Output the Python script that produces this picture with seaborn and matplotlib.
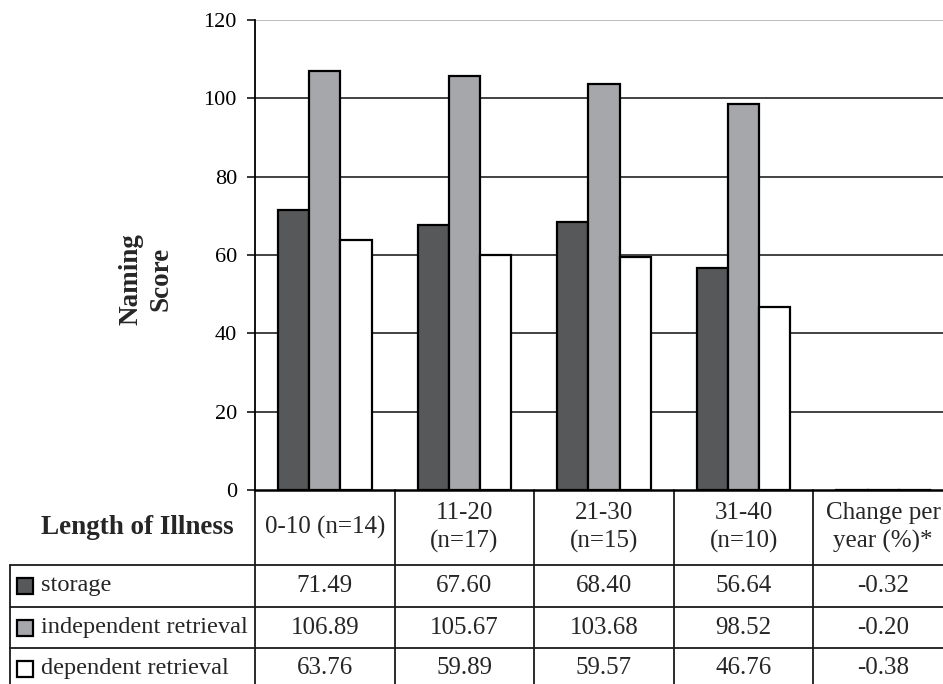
import numpy as np
import pandas as pd
import matplotlib
matplotlib.use("Agg")
import matplotlib.pyplot as plt
import seaborn as sns

# Données du graphique
categories = ["0-10 (n=14)", "11-20\n(n=17)", "21-30\n(n=15)", "31-40\n(n=10)", "Change per\nyear (%)*"]
series = ["storage", "independent retrieval", "dependent retrieval"]
storage = [71.49, 67.60, 68.40, 56.64, -0.32]
independent = [106.89, 105.67, 103.68, 98.52, -0.20]
dependent = [63.76, 59.89, 59.57, 46.76, -0.38]
couleurs = ["#56585a", "#a6a7aa", "#ffffff"]
yticks = [0, 20, 40, 60, 80, 100, 120]

df = pd.DataFrame({
    "categorie": categories * 3,
    "serie": np.repeat(series, len(categories)),
    "score": storage + independent + dependent,
})

sns.set_theme(style="white")
plt.rcParams["font.family"] = ["Liberation Serif", "DejaVu Serif"]

fig = plt.figure(figsize=(9.43, 6.84), dpi=100)
# la zone de tracé dépasse à droite, comme dans l'original rogné
ax = fig.add_axes([255 / 943, 194 / 684, 698 / 943, 470 / 684])

sns.barplot(data=df, x="categorie", y="score", hue="serie", order=categories,
            hue_order=series, palette=couleurs, saturation=1, width=0.67,
            edgecolor="black", linewidth=1.6, legend=False, ax=ax, zorder=3)

# Grille horizontale
for v in yticks[1:-1]:
    ax.axhline(v, color="#222222", lw=1.2, zorder=1)
ax.axhline(yticks[-1], color="#b0b0b0", lw=1.2, zorder=1)

ax.set_ylim(0, 120)
ax.set_xlim(-0.5, 4.5)
ax.set_yticks(yticks)
ax.set_xticks([])
ax.set_xlabel("")
ax.set_ylabel("")
ax.tick_params(axis="y", direction="out", length=6, width=1.1, color="black",
               pad=7, labelsize=16, labelcolor="black", left=True)
for s in ["top", "right"]:
    ax.spines[s].set_visible(False)
ax.spines["left"].set_color("black")
ax.spines["left"].set_linewidth(1.3)
ax.spines["bottom"].set_color("black")
ax.spines["bottom"].set_linewidth(1.8)

fig.text(146 / 943, 1 - 279 / 684, "Naming\nScore", rotation=90, ha="center",
         va="center", fontsize=19.5, fontweight="bold", linespacing=1.25)

# Tableau de données sous le graphique
trans = ax.get_xaxis_transform()
px = 139.6  # largeur d'une catégorie en pixels
x_left = -0.5 - 245 / px
y_head = -75 / 470
y_rows = [-117 / 470, -158 / 470, -199 / 470]
lc = "#1a1a1a"

for i in range(len(categories) + 1):
    ax.plot([i - 0.5, i - 0.5], [0, -0.45], color=lc, lw=1.3, transform=trans, clip_on=False)
ax.plot([x_left, x_left], [y_head, -0.45], color=lc, lw=1.3, transform=trans, clip_on=False)
for y in [y_head] + y_rows[:-1]:
    ax.plot([x_left, 4.5], [y, y], color=lc, lw=1.3, transform=trans, clip_on=False)

for i, cat in enumerate(categories):
    ax.text(i, -37.5 / 470, cat, transform=trans, ha="center", va="center",
            fontsize=18, linespacing=1.35)

ax.text(-0.5 - 118 / px, -37.5 / 470, "Length of Illness", transform=trans,
        ha="center", va="center", fontsize=19.5, fontweight="bold")

bornes = [y_head] + y_rows
for r, (nom, vals, c) in enumerate(zip(series, [storage, independent, dependent], couleurs)):
    yc = (bornes[r] + bornes[r + 1]) / 2
    ax.plot([-0.5 - 230 / px], [yc], marker="s", markersize=11, markerfacecolor=c,
            markeredgecolor="black", markeredgewidth=1.6, transform=trans, clip_on=False)
    ax.text(-0.5 - 214 / px, yc, nom, transform=trans, ha="left", va="center", fontsize=17.6)
    for i, v in enumerate(vals):
        ax.text(i, yc, f"{v:.2f}", transform=trans, ha="center", va="center", fontsize=18)

fig.savefig("out.png", dpi=100)
